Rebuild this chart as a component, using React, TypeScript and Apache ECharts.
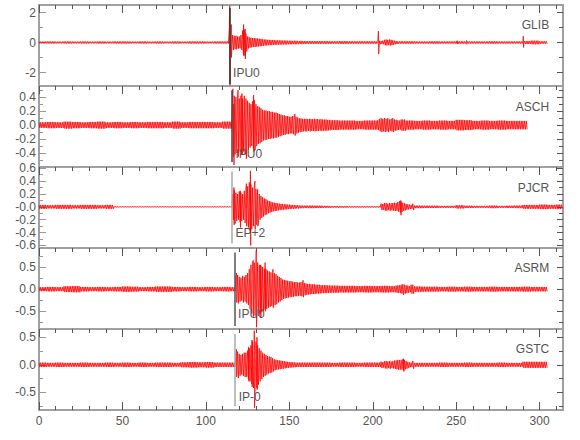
import React, { useEffect, useRef } from "react";
import * as echarts from "echarts";

// ---------- data ----------
const STATIONS = ["GLIB", "ASCH", "PJCR", "ASRM", "GSTC"];
const X_MAX = 314;
const X_MAJOR = [0, 50, 100, 150, 200, 250, 300];
const X_MINOR = [10, 20, 30, 40, 60, 70, 80, 90, 110, 120, 130, 140, 160, 170, 180, 190, 210, 220, 230, 240, 260, 270, 280, 290, 310];

const Y_MIN = [-2.9, -0.6, -0.64, -0.9, -0.82];
const Y_MAX = [2.5, 0.56, 0.62, 0.93, 0.65];
const Y_MAJOR = [
  [-2, 0, 2],
  [-0.4, -0.2, 0, 0.2, 0.4],
  [-0.6, -0.4, -0.2, 0, 0.2, 0.4, 0.6],
  [-0.5, 0, 0.5],
  [-0.5, 0, 0.5],
];
const Y_MINOR = [
  [-1, 1],
  [-0.5, -0.3, -0.1, 0.1, 0.3, 0.5],
  [-0.5, -0.3, -0.1, 0.1, 0.3, 0.5],
  [-0.75, -0.25, 0.25, 0.75],
  [-0.75, -0.25, 0.25],
];
const Y_DECIMALS = [0, 1, 1, 1, 1];
const Y_ZERO_LABEL = ["0", "0.0", "-0.0", "0.0", "0.0"];

// trace end times (s)
const TRACE_END = [305, 293, 314, 305, 305];

// background envelope amplitude per 5-s bin
const GLIB_NOISE = [0.06, 0.07, 0.06, 0.07, 0.06, 0.07, 0.06, 0.07, 0.06, 0.07,
  0.07, 0.06, 0.07, 0.06, 0.07, 0.06, 0.07, 0.06, 0.07, 0.07,
  0.06, 0.07, 0.07, 0.5, 0.3, 0.25, 0.2, 0.17, 0.14, 0.12,
  0.1, 0.1, 0.09, 0.09, 0.09, 0.08, 0.09, 0.08, 0.08, 0.08,
  0.08, 0.15, 0.18, 0.08, 0.08, 0.07, 0.07, 0.08, 0.07, 0.07,
  0.08, 0.07, 0.07, 0.07, 0.08, 0.07, 0.07, 0.07, 0.1, 0.12,
  0.08];
const ASCH_NOISE = [0.04, 0.045, 0.04, 0.05, 0.045, 0.04, 0.045, 0.05, 0.04, 0.045,
  0.04, 0.045, 0.04, 0.045, 0.045, 0.04, 0.05, 0.04, 0.045, 0.045,
  0.045, 0.04, 0.05, 0.05, 0.3, 0.2, 0.18, 0.13, 0.12, 0.1,
  0.09, 0.09, 0.085, 0.085, 0.08, 0.07, 0.065, 0.065, 0.06, 0.065,
  0.065, 0.09, 0.09, 0.08, 0.065, 0.06, 0.065, 0.06, 0.065, 0.06,
  0.075, 0.07, 0.06, 0.065, 0.06, 0.065, 0.06, 0.06, 0.06];
const PJCR_NOISE = [0.03, 0.025, 0.03, 0.03, 0.025, 0.03, 0.03, 0.025, 0.03, 0.008,
  0.008, 0.008, 0.008, 0.008, 0.008, 0.008, 0.008, 0.008, 0.008, 0.008,
  0.008, 0.008, 0.008, 0.008, 0.2, 0.15, 0.1, 0.06, 0.05, 0.04,
  0.03, 0.025, 0.02, 0.018, 0.015, 0.012, 0.012, 0.01, 0.01, 0.01,
  0.01, 0.05, 0.06, 0.08, 0.05, 0.02, 0.018, 0.018, 0.015, 0.015,
  0.025, 0.018, 0.015, 0.015, 0.02, 0.015, 0.018, 0.02, 0.03, 0.03,
  0.035, 0.03, 0.035];
const ASRM_NOISE = [0.045, 0.05, 0.045, 0.065, 0.07, 0.05, 0.045, 0.05, 0.045, 0.05,
  0.06, 0.055, 0.045, 0.05, 0.06, 0.06, 0.05, 0.045, 0.05, 0.045,
  0.05, 0.045, 0.05, 0.045, 0.3, 0.6, 0.45, 0.35, 0.25, 0.2,
  0.17, 0.15, 0.12, 0.1, 0.09, 0.08, 0.075, 0.075, 0.07, 0.075,
  0.07, 0.075, 0.07, 0.1, 0.1, 0.06, 0.055, 0.055, 0.05, 0.055,
  0.05, 0.055, 0.05, 0.05, 0.055, 0.05, 0.05, 0.05, 0.055, 0.05,
  0.05];
const GSTC_NOISE = [0.04, 0.035, 0.04, 0.035, 0.035, 0.04, 0.035, 0.035, 0.04, 0.035,
  0.04, 0.035, 0.04, 0.035, 0.04, 0.04, 0.035, 0.045, 0.05, 0.045,
  0.05, 0.04, 0.04, 0.04, 0.25, 0.4, 0.15, 0.1, 0.07, 0.06,
  0.045, 0.04, 0.04, 0.04, 0.04, 0.035, 0.04, 0.04, 0.035, 0.04,
  0.04, 0.06, 0.08, 0.09, 0.07, 0.035, 0.035, 0.035, 0.04, 0.035,
  0.035, 0.04, 0.035, 0.035, 0.035, 0.04, 0.035, 0.035, 0.055, 0.055,
  0.055];

// main event envelope per 1-s bin
const EVENT_START = [114, 116, 116, 118, 118];
const GLIB_EVENT = [0.9, 0.55, 0.5, 0.45, 0.45, 0.4, 0.4, 0.5, 0.8, 0.85,
  0.6, 0.4, 0.35, 0.32, 0.3, 0.3, 0.28, 0.27, 0.25, 0.24,
  0.22, 0.2, 0.2, 0.18, 0.18, 0.17, 0.17, 0.16, 0.15, 0.15,
  0.14, 0.14, 0.13, 0.13, 0.13, 0.12, 0.12, 0.12, 0.11, 0.12,
  0.11, 0.11, 0.1, 0.11, 0.1, 0.1];
const ASCH_EVENT = [0.45, 0.42, 0.4, 0.45, 0.38, 0.42, 0.38, 0.42, 0.38, 0.35,
  0.32, 0.3, 0.34, 0.36, 0.3, 0.27, 0.26, 0.24, 0.22, 0.21,
  0.21, 0.2, 0.2, 0.19, 0.19, 0.18, 0.18, 0.17, 0.16, 0.15,
  0.14, 0.14, 0.13, 0.13, 0.12, 0.12, 0.13, 0.15, 0.12, 0.11,
  0.1, 0.095, 0.09, 0.09, 0.09, 0.085, 0.09, 0.085, 0.085, 0.09,
  0.085, 0.085, 0.08, 0.085, 0.08, 0.08, 0.08, 0.075, 0.075, 0.07];
const PJCR_EVENT = [0.2, 0.26, 0.22, 0.2, 0.24, 0.22, 0.2, 0.25, 0.3, 0.32,
  0.38, 0.35, 0.3, 0.32, 0.28, 0.25, 0.2, 0.17, 0.15, 0.13,
  0.12, 0.1, 0.09, 0.08, 0.07, 0.065, 0.06, 0.055, 0.05, 0.045,
  0.045, 0.04, 0.04, 0.035, 0.035, 0.03, 0.03, 0.028, 0.025, 0.025,
  0.022, 0.02, 0.02, 0.018];
const ASRM_EVENT = [0.3, 0.32, 0.28, 0.26, 0.3, 0.28, 0.32, 0.36, 0.45, 0.55,
  0.62, 0.6, 0.68, 0.6, 0.55, 0.52, 0.5, 0.46, 0.45, 0.42,
  0.4, 0.38, 0.38, 0.36, 0.34, 0.3, 0.28, 0.25, 0.22, 0.21,
  0.2, 0.19, 0.18, 0.18, 0.17, 0.16, 0.16, 0.15, 0.15, 0.16,
  0.17, 0.14, 0.13, 0.12, 0.12, 0.11, 0.11, 0.11, 0.1, 0.1,
  0.1, 0.09, 0.09, 0.09, 0.09, 0.085, 0.085];
const GSTC_EVENT = [0.22, 0.24, 0.2, 0.18, 0.2, 0.22, 0.22, 0.26, 0.3, 0.35,
  0.42, 0.45, 0.42, 0.36, 0.3, 0.26, 0.22, 0.2, 0.18, 0.16,
  0.15, 0.14, 0.12, 0.1, 0.09, 0.085, 0.08, 0.075, 0.07, 0.065,
  0.06, 0.055, 0.05, 0.05, 0.045, 0.045, 0.04, 0.04, 0.04, 0.04];

// later arrival envelope per 1-s bin
const LATE_START = [204, 203, 206, 214, 206];
const GLIB_LATE = [0.12, 0.1, 0.12, 0.18, 0.2, 0.18, 0.2, 0.18, 0.15, 0.12, 0.1];
const ASCH_LATE = [0.07, 0.09, 0.1, 0.09, 0.1, 0.09, 0.1, 0.08, 0.09, 0.1, 0.08, 0.075, 0.07, 0.065];
const PJCR_LATE = [0.045, 0.06, 0.06, 0.05, 0.06, 0.055, 0.06, 0.065, 0.06, 0.075, 0.09, 0.08, 0.065, 0.055, 0.045, 0.04, 0.035, 0.03];
const ASRM_LATE = [0.08, 0.085, 0.09, 0.1, 0.11, 0.1, 0.09, 0.08, 0.07];
const GSTC_LATE = [0.05, 0.065, 0.07, 0.06, 0.07, 0.06, 0.065, 0.075, 0.08, 0.09, 0.085, 0.09, 0.1, 0.085, 0.07, 0.055, 0.045, 0.04];

// individual large swings: [time, max, min]
const GLIB_PEAKS = [[114.3, 2.45, -2.85], [115.2, 1.2, -1.0], [122.6, 1.2, -0.9], [123.5, 0.9, -1.1], [203.4, 0.76, -0.77], [250.6, 0.12, -0.1], [256.2, 0.13, -0.12], [290.2, 0.42, -0.33]];
const ASCH_PEAKS = [[116.2, 0.52, -0.3], [116.7, 0.3, -0.57], [119.3, 0.5, -0.45], [121.6, 0.45, -0.42], [124.1, 0.35, -0.48], [128.6, 0.43, -0.38], [153.4, 0.16, -0.15]];
const PJCR_PEAKS = [[116.8, 0.3, -0.28], [120.6, 0.25, -0.32], [124.3, 0.36, -0.3], [126.7, 0.56, -0.6], [129.4, 0.4, -0.35], [131, 0.27, -0.3], [216.8, 0.1, -0.13]];
const ASRM_PEAKS = [[118.4, 0.36, -0.3], [128.4, 0.65, -0.5], [130.2, 0.88, -0.86], [132.8, 0.55, -0.65], [135.5, 0.6, -0.5], [140.2, 0.45, -0.42], [158.3, 0.2, -0.18], [218.3, 0.1, -0.13]];
const GSTC_PEAKS = [[118.3, 0.28, -0.22], [125.6, 0.32, -0.3], [127.6, 0.45, -0.4], [129, 0.62, -0.78], [130.6, 0.5, -0.45], [218.5, 0.11, -0.12]];

// phase picks
const PICK_NAMES = ["IPU0", "IPU0", "EP+2", "IPU0", "IP-0"];
const PICK_T = [114.2, 115.6, 115.6, 117.2, 117.6];
const PICK_TOP = [2.3, 0.5, 0.55, 0.83, 0.56];
const PICK_BOTTOM = [-2.77, -0.53, -0.57, -0.83, -0.75];
const PICK_LABEL_Y = [-2.0, -0.42, -0.41, -0.55, -0.58];
const STATION_LABEL_T = 306;
const STATION_LABEL_Y = [1.15, 0.26, 0.3, 0.48, 0.28];

// ---------- styles ----------
const FONT = "'Liberation Sans', Arial, sans-serif";
const TEXT_COLOR = "#555";
const PICK_COLORS = ["#333", "#444", "#aaa", "#555", "#aaa"];
const GRID_TOP = 5;
const PANEL_H = 81;

const NOISE = [GLIB_NOISE, ASCH_NOISE, PJCR_NOISE, ASRM_NOISE, GSTC_NOISE];
const EVENT = [GLIB_EVENT, ASCH_EVENT, PJCR_EVENT, ASRM_EVENT, GSTC_EVENT];
const LATE = [GLIB_LATE, ASCH_LATE, PJCR_LATE, ASRM_LATE, GSTC_LATE];
const PEAKS = [GLIB_PEAKS, ASCH_PEAKS, PJCR_PEAKS, ASRM_PEAKS, GSTC_PEAKS];

function buildTrace(i: number): number[][] {
  const noise = NOISE[i], ev = EVENT[i], late = LATE[i];
  const pts: number[][] = [];
  for (let t = 0; t < TRACE_END[i]; t++) {
    let a = noise[Math.min(Math.floor(t / 5), noise.length - 1)];
    if (t >= EVENT_START[i] && t < EVENT_START[i] + ev.length) a = ev[t - EVENT_START[i]];
    if (t >= LATE_START[i] && t < LATE_START[i] + late.length) a = late[t - LATE_START[i]];
    pts.push([t, a], [t + 0.5, -a]);
  }
  for (const [tp, hi, lo] of PEAKS[i]) pts.push([tp, hi], [tp + 0.15, lo]);
  pts.sort((p, q) => p[0] - q[0]);
  return pts;
}

function xAx(grid: number, position: string, values: number[], len: number, labels: boolean) {
  return {
    type: "value", gridIndex: grid, position, min: 0, max: X_MAX,
    axisLine: { show: false, onZero: false },
    splitLine: { show: false },
    axisTick: { show: true, inside: true, length: len, customValues: values, lineStyle: { color: "#555", width: 1 } },
    axisLabel: labels
      ? { show: true, customValues: values, color: TEXT_COLOR, fontSize: 12, fontFamily: FONT, margin: 5 }
      : { show: false },
  };
}

function yAx(i: number, position: string, values: number[], len: number, color: string, labels: boolean) {
  return {
    type: "value", gridIndex: i, position, min: Y_MIN[i], max: Y_MAX[i],
    axisLine: { show: false, onZero: false },
    splitLine: { show: false },
    axisTick: { show: true, inside: true, length: len, customValues: values, lineStyle: { color, width: 1 } },
    axisLabel: labels
      ? {
          show: true, customValues: values, color: TEXT_COLOR, fontSize: 12, fontFamily: FONT, margin: 3,
          formatter: (v: number) => (Math.abs(v) < 1e-9 ? Y_ZERO_LABEL[i] : v.toFixed(Y_DECIMALS[i])),
        }
      : { show: false },
  };
}

function buildOption() {
  const grid: any[] = [];
  const xAxis: any[] = [];
  const yAxis: any[] = [];
  const series: any[] = [];
  for (let i = 0; i < STATIONS.length; i++) {
    grid.push({
      left: 39, right: 17, top: GRID_TOP + i * PANEL_H, height: PANEL_H,
      show: true, borderColor: "#a0a0a0", borderWidth: 2, backgroundColor: "transparent",
    });
    xAxis.push(xAx(i, "top", X_MAJOR, 8, false));
    xAxis.push(xAx(i, "top", X_MINOR, 4, false));
    yAxis.push(yAx(i, "left", Y_MAJOR[i], 7, "#999", true));
    yAxis.push(yAx(i, "left", Y_MINOR[i], 4, "#999", false));
    yAxis.push(yAx(i, "right", Y_MAJOR[i], 6, "#555", false));
    yAxis.push(yAx(i, "right", Y_MINOR[i], 4, "#555", false));
    series.push({
      type: "line",
      name: STATIONS[i],
      xAxisIndex: 2 * i,
      yAxisIndex: 4 * i,
      data: buildTrace(i),
      showSymbol: false,
      symbol: "none",
      silent: true,
      clip: true,
      lineStyle: { color: "#ff0000", width: 0.8 },
      markLine: {
        silent: true,
        symbol: ["none", "none"],
        label: { show: false },
        lineStyle: { color: PICK_COLORS[i], width: 1.5, type: "solid" },
        data: [[{ coord: [PICK_T[i], PICK_TOP[i]] }, { coord: [PICK_T[i], PICK_BOTTOM[i]] }]],
      },
      markPoint: {
        silent: true,
        symbol: "circle",
        symbolSize: 1,
        itemStyle: { color: "rgba(0,0,0,0)" },
        data: [
          {
            coord: [PICK_T[i], PICK_LABEL_Y[i]],
            label: { show: true, position: "right", distance: 3, formatter: PICK_NAMES[i], color: TEXT_COLOR, fontSize: 12, fontFamily: FONT },
          },
          {
            coord: [STATION_LABEL_T, STATION_LABEL_Y[i]],
            label: { show: true, position: "left", distance: 0, formatter: STATIONS[i], color: TEXT_COLOR, fontSize: 12, fontFamily: FONT },
          },
        ],
      },
    });
  }
  xAxis.push(xAx(4, "bottom", X_MAJOR, 8, true));
  xAxis.push(xAx(4, "bottom", X_MINOR, 4, false));
  return { animation: false, backgroundColor: "#fff", grid, xAxis, yAxis, series };
}

export default function App() {
  const ref = useRef<HTMLDivElement>(null);
  useEffect(() => {
    if (!ref.current) return;
    const chart = echarts.init(ref.current, null, { renderer: "svg" });
    chart.setOption(buildOption() as any);
    return () => chart.dispose();
  }, []);
  return <div ref={ref} style={{ position: "fixed", left: 0, top: 0, width: 580, height: 440 }} />;
}
